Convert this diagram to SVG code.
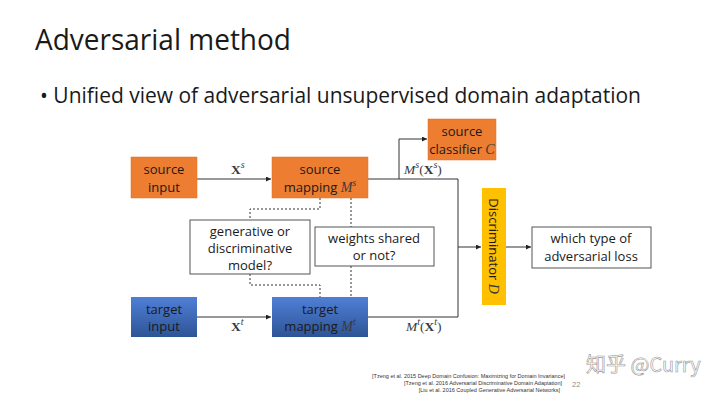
<svg xmlns="http://www.w3.org/2000/svg" width="720" height="405" viewBox="0 0 720 405">
<defs>
<style>
.t{font-family:"Open Sans","Liberation Sans",sans-serif;fill:#1a1a1a}
.m{font-family:"Liberation Serif",serif;fill:#3a3a3a}
.orange{fill:#ED7D31;stroke:#E07020;stroke-width:0.5}
.box{fill:#ffffff;stroke:#555555;stroke-width:1}
.ln{fill:none;stroke:#333333;stroke-width:1}
.dash{fill:none;stroke:#333333;stroke-width:1;stroke-dasharray:2,2}
</style>
<linearGradient id="blue" x1="0" y1="0" x2="0" y2="1">
<stop offset="0" stop-color="#4F7FD6"/>
<stop offset="1" stop-color="#2E5496"/>
</linearGradient>
<marker id="arr" viewBox="0 0 6 6" refX="6" refY="3" markerWidth="5" markerHeight="5" orient="auto">
<path d="M0,0 L6,3 L0,6 z" fill="#222222"/>
</marker>
</defs>
<rect width="720" height="405" fill="#ffffff"/>
<text x="35" y="50" class="t" font-size="29" textLength="256" lengthAdjust="spacingAndGlyphs">Adversarial method</text>
<text x="40" y="103" class="t" font-size="22" textLength="601" lengthAdjust="spacingAndGlyphs">• Unified view of adversarial unsupervised domain adaptation</text>

<g id="connectors">
<line x1="197" y1="179" x2="271" y2="179" class="ln" marker-end="url(#arr)"/>
<polyline points="368,179 458,179 458,317 368,317" class="ln"/>
<polyline points="399,179 399,139 427,139" class="ln" marker-end="url(#arr)"/>
<line x1="458" y1="247" x2="481" y2="247" class="ln" marker-end="url(#arr)"/>
<line x1="197" y1="317" x2="271" y2="317" class="ln" marker-end="url(#arr)"/>
<line x1="506" y1="247" x2="531" y2="247" class="ln" marker-end="url(#arr)"/>
<polyline points="320,198 320,209 250,209 250,220" class="dash"/>
<polyline points="250,274 250,285 320,285 320,297" class="dash"/>
<line x1="351" y1="198" x2="351" y2="227" class="dash"/>
<line x1="351" y1="266" x2="351" y2="297" class="dash"/>
<text x="231" y="174" class="m" font-size="13.5"><tspan font-weight="bold">X</tspan><tspan font-style="italic" font-size="10" dy="-6">s</tspan></text>
<text x="231" y="331" class="m" font-size="13.5"><tspan font-weight="bold">X</tspan><tspan font-style="italic" font-size="10" dy="-6">t</tspan></text>
<text x="404" y="174" class="m" font-size="13.5"><tspan font-style="italic">M</tspan><tspan font-style="italic" font-size="10" dy="-6">s</tspan><tspan dy="6">(</tspan><tspan font-weight="bold">X</tspan><tspan font-style="italic" font-size="10" dy="-6">s</tspan><tspan dy="6">)</tspan></text>
<text x="406" y="331" class="m" font-size="13.5"><tspan font-style="italic">M</tspan><tspan font-style="italic" font-size="10" dy="-6">t</tspan><tspan dy="6">(</tspan><tspan font-weight="bold">X</tspan><tspan font-style="italic" font-size="10" dy="-6">t</tspan><tspan dy="6">)</tspan></text>
</g>

<g id="source-input">
<rect x="131" y="157" width="66" height="41" class="orange"/>
<text x="164" y="174" class="t" font-size="13" text-anchor="middle">source</text>
<text x="164" y="192" class="t" font-size="13" text-anchor="middle">input</text>
</g>
<g id="source-mapping">
<rect x="272" y="157" width="96" height="41" class="orange"/>
<text x="320" y="174" class="t" font-size="13" text-anchor="middle">source</text>
<text x="320" y="192" class="t" font-size="13" text-anchor="middle">mapping <tspan class="m" font-style="italic" font-size="14">M</tspan><tspan class="m" font-style="italic" font-size="10" dy="-6">s</tspan></text>
</g>
<g id="source-classifier">
<rect x="428" y="119" width="68" height="41" class="orange"/>
<text x="462" y="136" class="t" font-size="13" text-anchor="middle">source</text>
<text x="462" y="154" class="t" font-size="13" text-anchor="middle">classifier <tspan class="m" font-style="italic" font-size="14">C</tspan></text>
</g>
<g id="generative-box">
<rect x="190" y="220" width="120" height="54" class="box"/>
<text x="250" y="236" class="t" font-size="13" text-anchor="middle">generative or</text>
<text x="250" y="253" class="t" font-size="13" text-anchor="middle">discriminative</text>
<text x="250" y="270" class="t" font-size="13" text-anchor="middle">model?</text>
</g>
<g id="weights-box">
<rect x="315" y="227" width="119" height="39" class="box"/>
<text x="374" y="243" class="t" font-size="13" text-anchor="middle">weights shared</text>
<text x="374" y="260" class="t" font-size="13" text-anchor="middle">or not?</text>
</g>
<g id="target-input">
<rect x="131" y="297" width="66" height="40" fill="url(#blue)"/>
<text x="164" y="314" class="t" font-size="13" text-anchor="middle">target</text>
<text x="164" y="331" class="t" font-size="13" text-anchor="middle">input</text>
</g>
<g id="target-mapping">
<rect x="272" y="297" width="96" height="40" fill="url(#blue)"/>
<text x="320" y="314" class="t" font-size="13" text-anchor="middle">target</text>
<text x="320" y="331" class="t" font-size="13" text-anchor="middle">mapping <tspan class="m" font-style="italic" font-size="14">M</tspan><tspan class="m" font-style="italic" font-size="10" dy="-6">t</tspan></text>
</g>
<g id="discriminator">
<rect x="482" y="188" width="24" height="117" fill="#FFC000"/>
<text x="0" y="0" class="t" font-size="13" text-anchor="middle" transform="translate(489,246) rotate(90)">Discriminator <tspan class="m" font-style="italic" font-size="14">D</tspan></text>
</g>
<g id="loss-box">
<rect x="532" y="227" width="119" height="41" class="box"/>
<text x="591" y="243" class="t" font-size="13" text-anchor="middle">which type of</text>
<text x="591" y="261" class="t" font-size="13" text-anchor="middle">adversarial loss</text>
</g>

<g id="references" font-family="'Liberation Sans',sans-serif" font-size="5.5" fill="#333333" text-anchor="end">
<text x="565" y="378">[Tzeng et al. 2015 Deep Domain Confusion: Maximizing for Domain Invariance]</text>
<text x="562" y="385">[Tzeng et al. 2016 Adversarial Discriminative Domain Adaptation]</text>
<text x="560" y="392">[Liu et al. 2016 Coupled Generative Adversarial Networks]</text>
</g>
<text x="572" y="387" font-family="'Liberation Sans',sans-serif" font-size="7.5" fill="#8a8a8a">22</text>
<text x="586" y="372" font-family="'Noto Sans CJK SC',sans-serif" font-size="20" fill="#ffffff" fill-opacity="0.6" stroke="#9a9a9a" stroke-width="0.6">知乎 @Curry</text>
</svg>
